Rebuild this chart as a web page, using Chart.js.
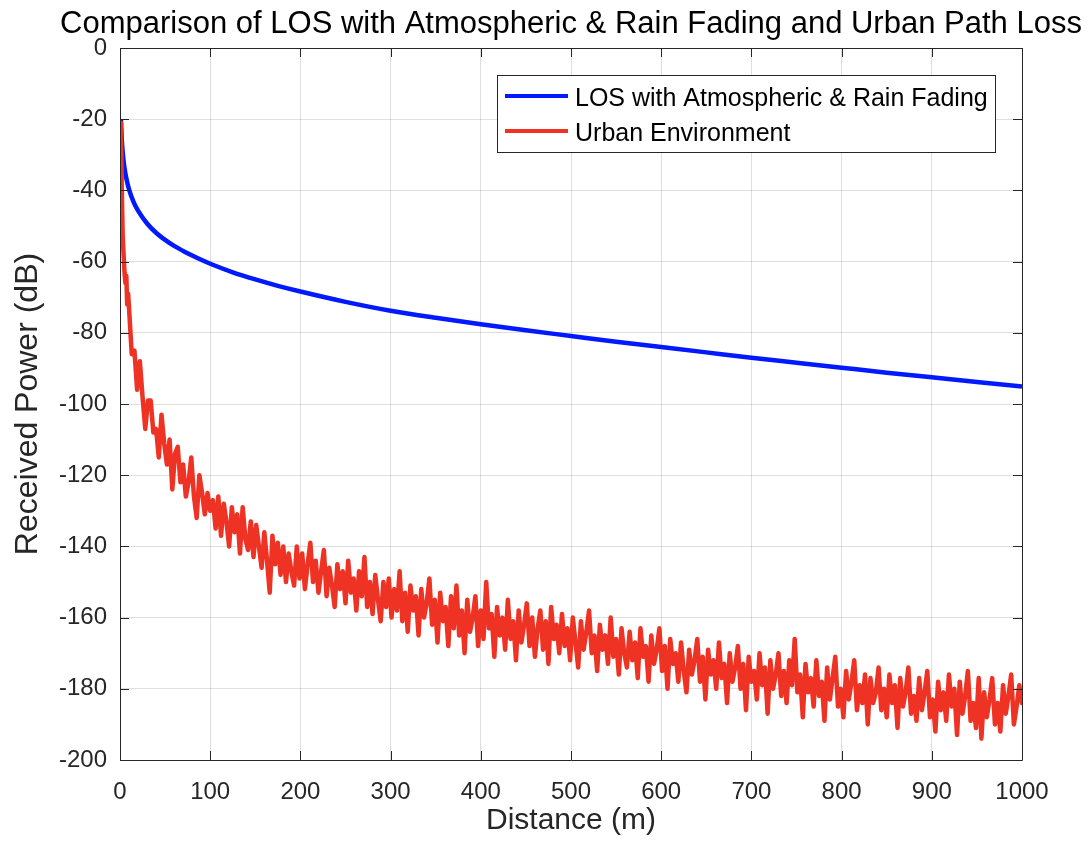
<!DOCTYPE html>
<html><head><meta charset="utf-8">
<script src="https://cdn.jsdelivr.net/npm/chart.js@4.4.1/dist/chart.umd.min.js"></script>
<style>html,body{margin:0;padding:0;background:#fff}#wrap{width:1090px;height:848px}</style>
</head><body><div id="wrap"><canvas id="c" width="1090" height="848"></canvas></div>
<script>
const chartTitle = "Comparison of LOS with Atmospheric & Rain Fading and Urban Path Loss";
const xAxisTitle = "Distance (m)";
const yAxisTitle = "Received Power (dB)";
const losLabel = "LOS with Atmospheric & Rain Fading";
const urbanLabel = "Urban Environment";
const xTickValues = [0,100,200,300,400,500,600,700,800,900,1000];
const yTickValues = [0,-20,-40,-60,-80,-100,-120,-140,-160,-180,-200];

const losDistance = [1,2,3,4,5,7,10,15,20,30,40,50,60,70,80,90,100,125,150,175,200,250,300,350,400,450,500,550,600,650,700,750,800,850,900,950,1000];
const losPower = [-20.0,-25.8,-29.3,-31.8,-33.7,-36.6,-39.7,-43.2,-45.7,-49.3,-51.9,-53.9,-55.6,-57.0,-58.3,-59.5,-60.6,-63.0,-65.0,-66.8,-68.4,-71.3,-73.8,-75.8,-77.6,-79.3,-80.9,-82.5,-84.0,-85.5,-87.0,-88.4,-89.8,-91.2,-92.5,-93.8,-95.1];

const urbanDistance = [1,2,3,4,5,6,7,8,9,
10,13,16,19,22,25,28,31,34,37,40,43,46,49,52,55,58,61,64,67,70,73,76,79,82,85,88,91,94,97,
100,103,106,109,112,115,118,121,124,127,130,133,136,139,142,145,148,151,154,157,160,163,166,169,172,175,178,181,184,187,190,193,196,199,
202,205,208,211,214,217,220,223,226,229,232,235,238,241,244,247,250,253,256,259,262,265,268,271,274,277,280,283,286,289,292,295,298,
301,304,307,310,313,316,319,322,325,328,331,334,337,340,343,346,349,352,355,358,361,364,367,370,373,376,379,382,385,388,391,394,397,
400,403,406,409,412,415,418,421,424,427,430,433,436,439,442,445,448,451,454,457,460,463,466,469,472,475,478,481,484,487,490,493,496,499,
502,505,508,511,514,517,520,523,526,529,532,535,538,541,544,547,550,553,556,559,562,565,568,571,574,577,580,583,586,589,592,595,598,
601,604,607,610,613,616,619,622,625,628,631,634,637,640,643,646,649,652,655,658,661,664,667,670,673,676,679,682,685,688,691,694,697,
700,703,706,709,712,715,718,721,724,727,730,733,736,739,742,745,748,751,754,757,760,763,766,769,772,775,778,781,784,787,790,793,796,799,
802,805,808,811,814,817,820,823,826,829,832,835,838,841,844,847,850,853,856,859,862,865,868,871,874,877,880,883,886,889,892,895,898,
901,904,907,910,913,916,919,922,925,928,931,934,937,940,943,946,949,952,955,958,961,964,967,970,973,976,979,982,985,988,991,994,997,1000];
const urbanPower = [-21,-40,-53,-58,-63,-66,-64,-72,-69,
-73,-86,-85,-96,-88,-98,-107,-99,-99,-108,-107,-115,-103,-111,-117,-110,-124,-114,-112,-122,-117,-126,-122,-115,-126,-132,-120,-125,-131,-125,
-130,-127,-135,-126,-137,-128,-133,-140,-129,-136,-131,-142,-129,-138,-141,-133,-143,-134,-140,-146,-136,-144,-153,-137,-145,-139,-148,-140,-150,-142,-147,-151,-140,-149,
-142,-152,-145,-139,-150,-144,-153,-147,-141,-154,-146,-151,-157,-145,-152,-147,-156,-144,-153,-149,-158,-147,-154,-143,-157,-150,-159,-148,-155,-161,-150,-157,-149,
-160,-152,-158,-147,-161,-153,-164,-151,-158,-154,-165,-152,-160,-156,-149,-162,-155,-167,-153,-161,-157,-168,-154,-163,-151,-165,-158,-170,-155,-164,-160,-154,-168,
-158,-166,-150,-163,-159,-171,-157,-165,-160,-169,-155,-166,-161,-172,-158,-167,-162,-156,-168,-160,-171,-163,-158,-169,-161,-173,-157,-166,-162,-170,-159,-168,-163,-172,
-160,-167,-174,-161,-169,-164,-158,-170,-165,-175,-162,-169,-165,-173,-160,-171,-166,-176,-163,-170,-174,-164,-172,-167,-177,-163,-171,-168,-178,-165,-173,-169,-163,
-175,-168,-180,-166,-173,-170,-178,-167,-175,-181,-169,-176,-172,-166,-178,-171,-183,-169,-176,-172,-180,-167,-177,-173,-184,-170,-178,-174,-168,-180,-173,-186,-171,
-178,-175,-183,-170,-179,-174,-187,-172,-180,-176,-170,-182,-175,-184,-172,-179,-166,-181,-176,-188,-173,-181,-177,-185,-172,-182,-178,-189,-174,-183,-177,-171,-185,-180,
-188,-175,-183,-178,-172,-186,-179,-184,-176,-190,-177,-184,-181,-174,-186,-180,-188,-176,-184,-179,-191,-177,-185,-181,-174,-187,-182,-189,-177,-186,-181,-175,-188,
-183,-192,-178,-186,-181,-189,-176,-185,-180,-193,-178,-187,-182,-175,-189,-184,-191,-177,-194,-181,-188,-183,-177,-190,-184,-192,-179,-187,-182,-176,-190,-185,-179,-184];

const TXT = '#262626';
const FONT = '"Liberation Sans", Arial, sans-serif';

const decorPlugin = {
  id: 'decor',
  afterDraw(chart) {
    const ctx = chart.ctx;
    const a = chart.chartArea;
    const xs = chart.scales.x, ys = chart.scales.y;
    ctx.save();
    ctx.strokeStyle = TXT;
    ctx.lineWidth = 1;
    ctx.beginPath();
    ctx.rect(a.left + 0.5, a.top + 0.5, a.right - a.left, a.bottom - a.top);
    ctx.stroke();
    const tl = 9;
    ctx.beginPath();
    xTickValues.forEach(v => {
      const px = Math.round(xs.getPixelForValue(v)) + 0.5;
      ctx.moveTo(px, a.bottom); ctx.lineTo(px, a.bottom - tl);
      ctx.moveTo(px, a.top); ctx.lineTo(px, a.top + tl);
    });
    yTickValues.forEach(v => {
      const py = Math.round(ys.getPixelForValue(v)) + 0.5;
      ctx.moveTo(a.left, py); ctx.lineTo(a.left + tl, py);
      ctx.moveTo(a.right, py); ctx.lineTo(a.right - tl, py);
    });
    ctx.stroke();
    ctx.fillStyle = '#000';
    ctx.font = '31px ' + FONT;
    ctx.textAlign = 'center';
    ctx.textBaseline = 'alphabetic';
    ctx.fillText(chartTitle, (a.left + a.right) / 2, 33);
    ctx.fillStyle = TXT;
    ctx.font = '30px ' + FONT;
    ctx.fillText(xAxisTitle, (a.left + a.right) / 2, 829);
    ctx.save();
    ctx.translate(37, (a.top + a.bottom) / 2);
    ctx.rotate(-Math.PI / 2);
    ctx.font = '32px ' + FONT;
    ctx.fillText(yAxisTitle, 0, 0);
    ctx.restore();
    const lx = 497, ly = 75, lw = 498, lh = 77;
    ctx.fillStyle = '#fff';
    ctx.fillRect(lx, ly, lw, lh);
    ctx.strokeStyle = TXT;
    ctx.lineWidth = 1;
    ctx.strokeRect(lx + 0.5, ly + 0.5, lw, lh);
    const ds = [chart.data.datasets[0], chart.data.datasets[1]];
    const rows = [96, 131];
    ds.forEach((d, i) => {
      ctx.strokeStyle = d.borderColor;
      ctx.lineWidth = 4;
      ctx.beginPath();
      ctx.moveTo(505, rows[i]); ctx.lineTo(568, rows[i]);
      ctx.stroke();
      ctx.fillStyle = '#000';
      ctx.font = '25px ' + FONT;
      ctx.textAlign = 'left';
      ctx.textBaseline = 'alphabetic';
      ctx.fillText(d.label, 575, rows[i] + 10);
    });
    ctx.restore();
  }
};

new Chart(document.getElementById('c'), {
  type: 'line',
  data: {
    datasets: [
      {
        label: losLabel,
        data: losDistance.map((x, i) => ({x, y: losPower[i]})),
        borderColor: '#0019FF',
        borderWidth: 4.5,
        pointRadius: 0,
        cubicInterpolationMode: 'monotone',
        borderCapStyle: 'butt',
        order: 1
      },
      {
        label: urbanLabel,
        data: urbanDistance.map((x, i) => ({x, y: urbanPower[i]})),
        borderColor: '#EE3325',
        borderWidth: 4.5,
        pointRadius: 0,
        tension: 0,
        borderJoinStyle: 'round',
        borderCapStyle: 'round',
        order: 0
      }
    ]
  },
  options: {
    responsive: false,
    devicePixelRatio: 1,
    animation: false,
    layout: { padding: { top: 48, right: 68, left: 0, bottom: 0 } },
    plugins: { legend: { display: false }, title: { display: false }, tooltip: { enabled: false } },
    scales: {
      x: {
        type: 'linear', min: 0, max: 1000,
        afterFit: s => { s.height = 88; },
        afterBuildTicks: s => { s.ticks = xTickValues.map(v => ({value: v})); },
        ticks: { color: TXT, font: { family: FONT, size: 24 }, padding: 18, maxRotation: 0, callback: v => String(v) },
        grid: { color: 'rgba(38,38,38,0.15)', drawTicks: false },
        border: { display: false }
      },
      y: {
        type: 'linear', min: -200, max: 0,
        afterFit: s => { s.width = 120; },
        afterBuildTicks: s => { s.ticks = yTickValues.map(v => ({value: v})); },
        ticks: { color: TXT, font: { family: FONT, size: 24 }, padding: 13, callback: v => String(v) },
        grid: { color: 'rgba(38,38,38,0.15)', drawTicks: false },
        border: { display: false }
      }
    }
  },
  plugins: [decorPlugin]
});
</script></body></html>
